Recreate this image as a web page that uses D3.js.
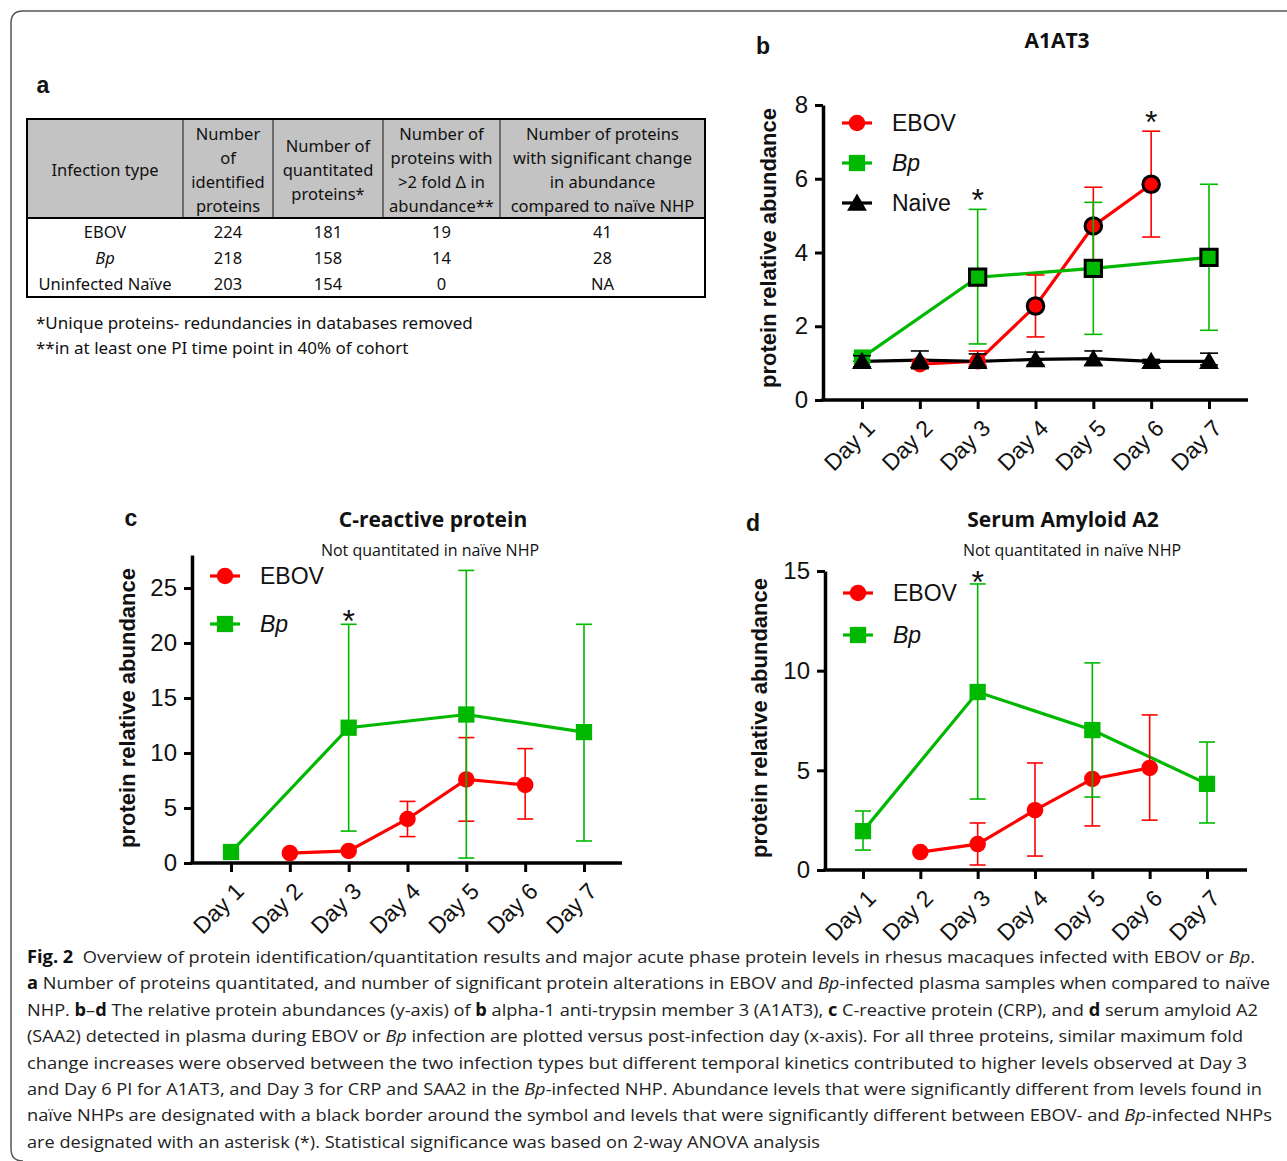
<!DOCTYPE html>
<html>
<head>
<meta charset="utf-8">
<script src="https://cdn.jsdelivr.net/npm/d3@7"></script>
<style>
  body { margin: 0; background: #fff; }
  svg { display: block; }
</style>
</head>
<body>
<svg id="fig" width="1287" height="1161"></svg>
<script>
// ---- data ----
const days = ["Day 1", "Day 2", "Day 3", "Day 4", "Day 5", "Day 6", "Day 7"];

// b: A1AT3
const a1at3Ebov   = [null, 0.97, 1.05, 2.55, 4.72, 5.85, null];
const a1at3EbovLo = [null, 0.88, 0.95, 1.71, 3.67, 4.42, null];
const a1at3EbovHi = [null, 1.05, 1.33, 3.39, 5.77, 7.29, null];
const a1at3EbovSig = [0, 0, 0, 1, 1, 1, 0];
const a1at3Bp     = [1.15, null, 3.33, null, 3.57, null, 3.87];
const a1at3BpLo   = [1.05, null, 1.52, null, 1.78, null, 1.89];
const a1at3BpHi   = [1.25, null, 5.17, null, 5.36, null, 5.85];
const a1at3BpSig  = [0, 0, 1, 0, 1, 0, 1];
const a1at3Naive   = [1.05, 1.08, 1.05, 1.10, 1.12, 1.05, 1.05];
const a1at3NaiveLo = [0.90, 0.85, 0.90, 0.95, 0.95, 1.00, 0.95];
const a1at3NaiveHi = [1.20, 1.33, 1.25, 1.30, 1.33, 1.10, 1.27];
const a1at3Stars = ["Day 3", "Day 6"];

// c: C-reactive protein
const crpEbov   = [null, 0.9, 1.1, 4.0, 7.6, 7.1, null];
const crpEbovLo = [null, 0.9, 1.1, 2.4, 3.8, 4.0, null];
const crpEbovHi = [null, 0.9, 1.1, 5.6, 11.4, 10.4, null];
const crpBp     = [1.0, null, 12.3, null, 13.5, null, 11.9];
const crpBpLo   = [1.0, null, 2.9, null, 0.45, null, 2.0];
const crpBpHi   = [1.0, null, 21.7, null, 26.6, null, 21.7];
const crpStars = ["Day 3"];

// d: Serum Amyloid A2
const saaEbov   = [null, 0.9, 1.3, 3.0, 4.57, 5.12, null];
const saaEbovLo = [null, 0.9, 0.25, 0.7, 2.21, 2.5, null];
const saaEbovHi = [null, 0.9, 2.36, 5.37, 6.9, 7.78, null];
const saaBp     = [1.95, null, 8.93, null, 7.02, null, 4.32];
const saaBpLo   = [1.0, null, 3.56, null, 3.66, null, 2.36];
const saaBpHi   = [2.96, null, 14.35, null, 10.39, null, 6.42];
const saaStars = ["Day 3"];

// a: table
const tableHeader = [
  ["Infection type"],
  ["Number", "of", "identified", "proteins"],
  ["Number of", "quantitated", "proteins*"],
  ["Number of", "proteins with", ">2 fold \u0394 in", "abundance**"],
  ["Number of proteins", "with significant change", "in abundance", "compared to na\u00efve NHP"]
];
const tableRows = [
  ["EBOV", "224", "181", "19", "41"],
  ["Bp", "218", "158", "14", "28"],
  ["Uninfected Na\u00efve", "203", "154", "0", "NA"]
];
const tableNotes = [
  "*Unique proteins- redundancies in databases removed",
  "**in at least one PI time point in 40% of cohort"
];

const RED = "#ff0000", GREEN = "#00b800", BLACK = "#000";
const CHART_FONT = "'Liberation Sans', Arial, sans-serif";
const TEXT_FONT = "'Open Sans', 'Noto Sans', sans-serif";

const svg = d3.select("#fig");

// frame
svg.append("path")
  .attr("d", "M1295,11 H23 Q11,11 11,23 V1149 Q11,1161 23,1161")
  .attr("fill", "none").attr("stroke", "#555").attr("stroke-width", 1.5);

function series(vals, lo, hi, sig) {
  return days.map((d, i) => ({ day: d, v: vals[i], lo: lo[i], hi: hi[i], sig: sig ? sig[i] : 0 }))
    .filter(d => d.v != null);
}

function drawPanel(p) {
  const x = d3.scalePoint().domain(days).range([p.x1, p.x7]);
  const y = d3.scaleLinear().domain([0, p.yMax]).range([p.y0, p.yTop]);
  const g = svg.append("g");

  // axes
  const yAx = g.append("g").attr("transform", `translate(${p.axisX},0)`)
    .call(d3.axisLeft(y).tickValues(p.yTicks).tickSize(8).tickSizeOuter(0).tickPadding(7));
  yAx.select(".domain").attr("stroke-width", 3.5);
  yAx.selectAll(".tick line").attr("stroke-width", 3);
  yAx.selectAll(".tick text").attr("font-family", CHART_FONT).attr("font-size", 24).attr("fill", "#111");

  const xAx = g.append("g").attr("transform", `translate(0,${p.y0})`)
    .call(d3.axisBottom(x).tickSize(9).tickSizeOuter(0));
  xAx.select(".domain").remove();
  xAx.selectAll(".tick line").attr("stroke-width", 3);
  xAx.selectAll(".tick text")
    .attr("font-family", CHART_FONT).attr("font-size", 23).attr("fill", "#111")
    .attr("text-anchor", "end").attr("x", 0).attr("y", 0).attr("dy", "0.35em")
    .attr("transform", "translate(8,24) rotate(-45)");
  g.append("line").attr("x1", p.axisX - 1.75).attr("x2", p.xEnd)
    .attr("y1", p.y0).attr("y2", p.y0).attr("stroke", "#000").attr("stroke-width", 3.5);

  // lines
  const line = d3.line().x(d => x(d.day)).y(d => y(d.v));
  p.series.forEach(s => {
    g.append("path").datum(s.data).attr("d", line)
      .attr("fill", "none").attr("stroke", s.color).attr("stroke-width", 3.2);
  });

  // error bars + markers
  p.series.forEach(s => {
    const eb = g.append("g").attr("stroke", s.color).attr("stroke-width", 1.6);
    const withErr = s.data.filter(d => d.hi - d.lo > 0.001);
    eb.selectAll(".v").data(withErr).join("line")
      .attr("x1", d => x(d.day)).attr("x2", d => x(d.day))
      .attr("y1", d => y(d.lo)).attr("y2", d => y(d.hi));
    eb.selectAll(".t").data(withErr).join("line")
      .attr("x1", d => x(d.day) - p.cap).attr("x2", d => x(d.day) + p.cap)
      .attr("y1", d => y(d.hi)).attr("y2", d => y(d.hi));
    eb.selectAll(".b").data(withErr).join("line")
      .attr("x1", d => x(d.day) - p.cap).attr("x2", d => x(d.day) + p.cap)
      .attr("y1", d => y(d.lo)).attr("y2", d => y(d.lo));

    g.selectAll(null).data(s.data).join("path")
      .attr("transform", d => `translate(${x(d.day)},${y(d.v) + (s.shape === d3.symbolTriangle ? 2 : 0)})`)
      .attr("d", d3.symbol().type(s.shape).size(s.size))
      .attr("fill", s.color)
      .attr("stroke", d => d.sig ? "#000" : "none")
      .attr("stroke-width", 3);
  });

  // significance asterisks
  p.stars.forEach(day => {
    const top = d3.max(p.series, s => {
      const pt = s.data.find(d => d.day === day);
      return pt ? pt.hi : 0;
    });
    g.append("text").attr("x", x(day)).attr("y", y(top) - p.starGap + 19)
      .attr("text-anchor", "middle").attr("font-family", CHART_FONT)
      .attr("font-size", 32).attr("fill", "#111").text("*");
  });

  // legend
  p.series.forEach((s, i) => {
    const ly = p.legY + i * p.legStep;
    g.append("line").attr("x1", p.legX).attr("x2", p.legX + 30)
      .attr("y1", ly).attr("y2", ly).attr("stroke", s.color).attr("stroke-width", 3.2);
    g.append("path").attr("transform", `translate(${p.legX + 15},${ly + (s.shape === d3.symbolTriangle ? 2 : 0)})`)
      .attr("d", d3.symbol().type(s.shape).size(s.size)).attr("fill", s.color);
    g.append("text").attr("x", p.legX + 50).attr("y", ly).attr("dy", "0.36em")
      .attr("font-family", CHART_FONT).attr("font-size", 23).attr("fill", "#111")
      .attr("font-style", s.italic ? "italic" : "normal").text(s.name);
  });

  // y title
  g.append("text").attr("transform", `translate(${p.titleX},${p.titleY}) rotate(-90)`)
    .attr("text-anchor", "middle").attr("dy", "0.35em")
    .attr("font-family", CHART_FONT).attr("font-weight", "bold").attr("font-size", 22)
    .attr("fill", "#111").text("protein relative abundance");

  // titles and panel letter
  g.append("text").attr("x", p.headX).attr("y", p.headY).attr("text-anchor", "middle")
    .attr("font-family", TEXT_FONT).attr("font-weight", "bold").attr("font-size", 21)
    .attr("fill", "#111").text(p.head);
  if (p.sub) {
    g.append("text").attr("x", p.subX).attr("y", p.headY + 29).attr("text-anchor", "middle")
      .attr("font-family", TEXT_FONT).attr("font-size", 16).attr("fill", "#111").text(p.sub);
  }
  g.append("text").attr("x", p.letterX).attr("y", p.letterY).attr("text-anchor", "middle")
    .attr("font-family", CHART_FONT).attr("font-weight", "bold").attr("font-size", 23)
    .attr("fill", "#111").text(p.letter);
}

const CIRCLE = { shape: d3.symbolCircle, size: 215 };
const SQUARE = { shape: d3.symbolSquare, size: 265 };
const TRI = { shape: d3.symbolTriangle, size: 170 };

drawPanel({
  letter: "b", letterX: 763, letterY: 54,
  head: "A1AT3", headX: 1057, headY: 48,
  x1: 862, x7: 1209, axisX: 823, xEnd: 1248, y0: 400, yTop: 105, yMax: 8,
  yTicks: [0, 2, 4, 6, 8], cap: 9, starGap: 17,
  titleX: 768, titleY: 248,
  legX: 842, legY: 123, legStep: 40,
  stars: a1at3Stars,
  series: [
    { name: "EBOV", color: RED, ...CIRCLE, data: series(a1at3Ebov, a1at3EbovLo, a1at3EbovHi, a1at3EbovSig) },
    { name: "Bp", italic: true, color: GREEN, ...SQUARE, data: series(a1at3Bp, a1at3BpLo, a1at3BpHi, a1at3BpSig) },
    { name: "Naive", color: BLACK, ...TRI, data: series(a1at3Naive, a1at3NaiveLo, a1at3NaiveHi) }
  ]
});

drawPanel({
  letter: "c", letterX: 131, letterY: 526,
  head: "C-reactive protein", headX: 433, headY: 527, sub: "Not quantitated in na\u00efve NHP", subX: 430,
  x1: 231, x7: 584, axisX: 192, xEnd: 622, y0: 863, yTop: 555, yMax: 28,
  yTicks: [0, 5, 10, 15, 20, 25], cap: 8, starGap: 11,
  titleX: 127, titleY: 708,
  legX: 210, legY: 576, legStep: 48,
  stars: crpStars,
  series: [
    { name: "EBOV", color: RED, ...CIRCLE, data: series(crpEbov, crpEbovLo, crpEbovHi) },
    { name: "Bp", italic: true, color: GREEN, ...SQUARE, data: series(crpBp, crpBpLo, crpBpHi) }
  ]
});

drawPanel({
  letter: "d", letterX: 753, letterY: 531,
  head: "Serum Amyloid A2", headX: 1063, headY: 527, sub: "Not quantitated in na\u00efve NHP", subX: 1072,
  x1: 863, x7: 1207, axisX: 825, xEnd: 1247, y0: 870, yTop: 571, yMax: 15,
  yTicks: [0, 5, 10, 15], cap: 8, starGap: 10,
  titleX: 759, titleY: 718,
  legX: 843, legY: 593, legStep: 42,
  stars: saaStars,
  series: [
    { name: "EBOV", color: RED, ...CIRCLE, data: series(saaEbov, saaEbovLo, saaEbovHi) },
    { name: "Bp", italic: true, color: GREEN, ...SQUARE, data: series(saaBp, saaBpLo, saaBpHi) }
  ]
});

// ---- panel a: table ----
const colEdges = [27, 183, 273, 383, 500, 705];
const headTop = 119, headBot = 218, bodyBot = 297;
const tg = svg.append("g").attr("font-family", "'Noto Sans', sans-serif").attr("fill", "#111");
tg.append("text").attr("x", 43).attr("y", 93).attr("text-anchor", "middle")
  .attr("font-family", CHART_FONT).attr("font-weight", "bold").attr("font-size", 23).text("a");
tg.append("rect").attr("x", colEdges[0]).attr("y", headTop)
  .attr("width", colEdges[5] - colEdges[0]).attr("height", headBot - headTop).attr("fill", "#c3c3c3");
tg.selectAll(".sep").data(colEdges.slice(1, 5)).join("line")
  .attr("x1", d => d).attr("x2", d => d).attr("y1", headTop).attr("y2", headBot)
  .attr("stroke", "#333").attr("stroke-width", 1.2);
tg.append("line").attr("x1", colEdges[0]).attr("x2", colEdges[5]).attr("y1", headBot).attr("y2", headBot)
  .attr("stroke", "#000").attr("stroke-width", 2);
tg.append("rect").attr("x", colEdges[0]).attr("y", headTop)
  .attr("width", colEdges[5] - colEdges[0]).attr("height", bodyBot - headTop)
  .attr("fill", "none").attr("stroke", "#000").attr("stroke-width", 2);

tableHeader.forEach((lines, c) => {
  const cx = (colEdges[c] + colEdges[c + 1]) / 2;
  const start = 170 - (lines.length - 1) * 12;
  lines.forEach((t, k) => {
    tg.append("text").attr("x", cx).attr("y", start + k * 24).attr("dy", "0.35em")
      .attr("text-anchor", "middle").attr("font-size", 16.5).text(t);
  });
});
tableRows.forEach((row, r) => {
  row.forEach((t, c) => {
    const cx = (colEdges[c] + colEdges[c + 1]) / 2;
    tg.append("text").attr("x", cx).attr("y", 232 + r * 26).attr("dy", "0.35em")
      .attr("text-anchor", "middle").attr("font-size", 16.5)
      .attr("font-style", t === "Bp" ? "italic" : "normal").text(t);
  });
});
tableNotes.forEach((t, k) => {
  tg.append("text").attr("x", 36).attr("y", 323 + k * 25).attr("dy", "0.35em")
    .attr("font-size", 17).text(t);
});

// ---- caption ----
const caption = [
  { w: 1228, s: [["Fig. 2", "b"], ["  Overview of protein identification/quantitation results and major acute phase protein levels in rhesus macaques infected with EBOV or "], ["Bp", "i"], ["."]] },
  { w: 1243, s: [["a", "b"], [" Number of proteins quantitated, and number of significant protein alterations in EBOV and "], ["Bp", "i"], ["-infected plasma samples when compared to na\u00efve"]] },
  { w: 1231, s: [["NHP. "], ["b", "b"], ["\u2013"], ["d", "b"], [" The relative protein abundances (y-axis) of "], ["b", "b"], [" alpha-1 anti-trypsin member 3 (A1AT3), "], ["c", "b"], [" C-reactive protein (CRP), and "], ["d", "b"], [" serum amyloid A2"]] },
  { w: 1216, s: [["(SAA2) detected in plasma during EBOV or "], ["Bp", "i"], [" infection are plotted versus post-infection day (x-axis). For all three proteins, similar maximum fold"]] },
  { w: 1220, s: [["change increases were observed between the two infection types but different temporal kinetics contributed to higher levels observed at Day 3"]] },
  { w: 1235, s: [["and Day 6 PI for A1AT3, and Day 3 for CRP and SAA2 in the "], ["Bp", "i"], ["-infected NHP. Abundance levels that were significantly different from levels found in"]] },
  { w: 1245, s: [["na\u00efve NHPs are designated with a black border around the symbol and levels that were significantly different between EBOV- and "], ["Bp", "i"], ["-infected NHPs"]] },
  { w: 793, s: [["are designated with an asterisk (*). Statistical significance was based on 2-way ANOVA analysis"]] }
];
const cg = svg.append("g").attr("font-family", TEXT_FONT).attr("font-size", 17).attr("fill", "#222");
caption.forEach((ln, i) => {
  const t = cg.append("text").attr("x", 27).attr("y", 963 + i * 26.4)
    .attr("textLength", ln.w).attr("lengthAdjust", "spacingAndGlyphs")
    .attr("xml:space", "preserve");
  ln.s.forEach(([txt, st]) => {
    t.append("tspan").text(txt)
      .attr("font-weight", st === "b" ? "bold" : null)
      .attr("font-style", st === "i" ? "italic" : null)
      .attr("fill", st === "b" ? "#111" : null);
  });
});
</script>
</body>
</html>
